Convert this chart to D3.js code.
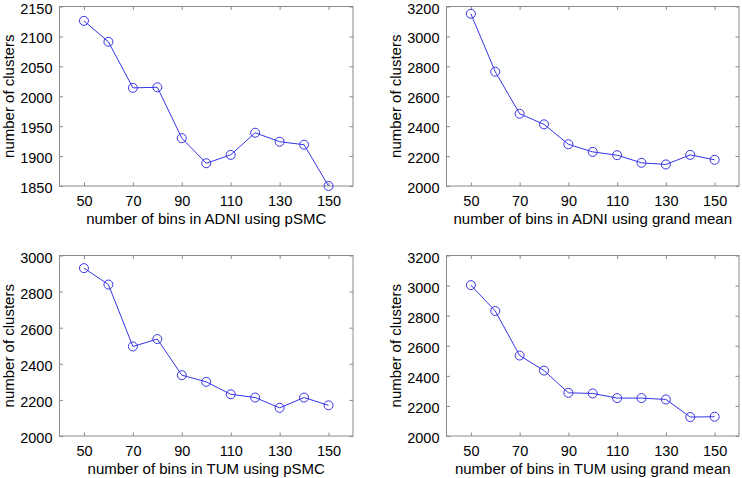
<!DOCTYPE html>
<html><head><meta charset="utf-8">
<script src="https://cdn.jsdelivr.net/npm/d3@7"></script>
<style>body{margin:0;background:#fff}svg{display:block}text{font-family:"Liberation Sans",Arial,sans-serif;fill:#000}</style>
</head><body><svg id="c" width="742" height="478"></svg>
<script>
const bins = [50,60,70,80,90,100,110,120,130,140,150];
const xTicks = [50,70,90,110,130,150];
const adniPsmc = [2126,2091,2014,2015,1930,1888,1902,1939,1924,1919,1850];
const adniGrand = [3151,2764,2483,2412,2279,2228,2206,2155,2144,2208,2175];
const tumPsmc = [2930,2839,2496,2537,2337,2300,2231,2213,2156,2213,2170];
const tumGrand = [3003,2831,2535,2435,2287,2283,2252,2252,2243,2126,2128];
const yTicks1 = [1850,1900,1950,2000,2050,2100,2150];
const yTicks2 = [2000,2200,2400,2600,2800,3000,3200];
const yTicks3 = [2000,2200,2400,2600,2800,3000];
const yTicks4 = [2000,2200,2400,2600,2800,3000,3200];
const xLabels = ["number of bins in ADNI using pSMC","number of bins in ADNI using grand mean","number of bins in TUM using pSMC","number of bins in TUM using grand mean"];
const yLabel = "number of clusters";

const panels = [
  {vals: adniPsmc, yt: yTicks1, xl: xLabels[0], box:[59.5,6.5,353,186]},
  {vals: adniGrand, yt: yTicks2, xl: xLabels[1], box:[446.5,6.5,739,186]},
  {vals: tumPsmc, yt: yTicks3, xl: xLabels[2], box:[59.5,255.5,353,436]},
  {vals: tumGrand, yt: yTicks4, xl: xLabels[3], box:[446.5,255.5,739,436]}
];
const svg = d3.select("#c");
const blue = "#3535e6";
panels.forEach(p => {
  const [x0,y0,x1,y1] = p.box;
  const x = d3.scaleLinear().domain([40,160]).range([x0,x1]);
  const y = d3.scaleLinear().domain([p.yt[0], p.yt[p.yt.length-1]]).range([y1,y0]);
  const g = svg.append("g");
  g.append("rect").attr("x",x0).attr("y",y0).attr("width",x1-x0).attr("height",y1-y0)
    .attr("fill","none").attr("stroke","#8a8a8a").attr("stroke-width",1);
  const tl = 3.5;
  const ax = d3.axisBottom(x).tickValues(xTicks).tickSize(-tl).tickPadding(10).tickFormat(d3.format("d"));
  const axT = d3.axisTop(x).tickValues(xTicks).tickSize(-tl).tickFormat("");
  const ay = d3.axisLeft(y).tickValues(p.yt).tickSize(-tl).tickPadding(7).tickFormat(d3.format("d"));
  const ayR = d3.axisRight(y).tickValues(p.yt).tickSize(-tl).tickFormat("");
  const style = sel => { sel.select(".domain").remove(); sel.selectAll(".tick line").attr("stroke","#8a8a8a");
    sel.selectAll(".tick text").attr("font-size",14.5).attr("font-family","Liberation Sans, Arial, sans-serif").attr("fill","#000"); };
  g.append("g").attr("transform",`translate(0,${y1})`).call(ax).call(style);
  g.append("g").attr("transform",`translate(0,${y0})`).call(axT).call(style);
  const gy = g.append("g").attr("transform",`translate(${x0},0)`).call(ay).call(style);
  gy.selectAll(".tick text").attr("dy","0.45em");
  g.append("g").attr("transform",`translate(${x1},0)`).call(ayR).call(style);
  const line = d3.line().x((d,i)=>x(bins[i])).y(d=>y(d));
  g.append("path").datum(p.vals).attr("d",line).attr("fill","none").attr("stroke",blue).attr("stroke-width",1);
  g.selectAll("circle").data(p.vals).join("circle").attr("cx",(d,i)=>x(bins[i])).attr("cy",d=>y(d))
    .attr("r",4.5).attr("fill","none").attr("stroke",blue).attr("stroke-width",1);
  g.append("text").attr("x",(x0+x1)/2).attr("y",y1+38).attr("text-anchor","middle").attr("font-size",15).text(p.xl);
  g.append("text").attr("transform",`translate(${x0-46},${(y0+y1)/2}) rotate(-90)`).attr("text-anchor","middle").attr("font-size",15).text(yLabel);
});
</script></body></html>
